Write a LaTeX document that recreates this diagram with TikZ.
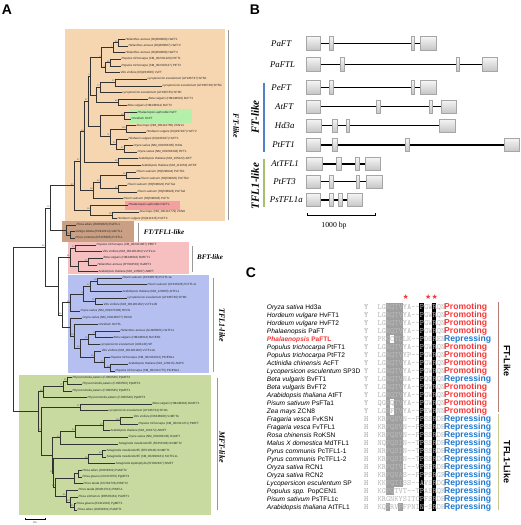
\documentclass[tikz,border=0pt]{standalone}
\usepackage{fontspec}
\setmainfont{Liberation Serif}
\setsansfont{Liberation Sans}
\newfontfamily\starfont{DejaVu Sans}
\usepackage{tikz}

\definecolor{ftbox}{RGB}{246,214,176}
\definecolor{fttflbox}{RGB}{201,160,132}
\definecolor{bftbox}{RGB}{246,192,192}
\definecolor{tflbox}{RGB}{182,192,240}
\definecolor{mftbox}{RGB}{200,218,160}
\definecolor{hlgreen}{RGB}{180,240,170}
\definecolor{hlred}{RGB}{244,160,160}
\definecolor{promred}{RGB}{245,55,55}
\definecolor{repblue}{RGB}{30,120,210}
\definecolor{ftbar}{RGB}{180,125,115}
\definecolor{tflbar}{RGB}{200,200,140}
\definecolor{bblue}{RGB}{80,130,200}
\definecolor{bgreen}{RGB}{170,190,110}

% y position of the i-th leaf of the tree
\newcommand\leafy[1]{39.3+6.63*(#1-1)}

\begin{document}
\begin{tikzpicture}
                        [
                            x=1pt, y=-1pt,
                            leaf style/.style={anchor=west, inner sep=0.3pt, text=black!85, font=\sffamily\fontsize{3}{3}\selectfont},
                            branch style/.style={draw=black!80, line width=0.35pt},
                            boot style/.style={anchor=south east, inner sep=0.2pt, text=black!70, font=\sffamily\fontsize{2.2}{2.2}\selectfont},
                            clade bar/.style={draw=gray!80, line width=0.8pt},
                            clade label/.style={font=\rmfamily\bfseries\itshape\fontsize{8}{8}\selectfont},
                            panel label/.style={font=\sffamily\bfseries\fontsize{14}{14}\selectfont},
                            intron style/.style={draw=black, line width=1.1pt},
                            exon style/.style={draw=gray!70, line width=0.5pt, top color=gray!8, bottom color=gray!45},
                            gene label/.style={font=\rmfamily\itshape\fontsize{8.8}{8.8}\selectfont},
                            group label/.style={rotate=90, font=\rmfamily\bfseries\itshape\fontsize{11}{11}\selectfont},
                            name style/.style={anchor=base west, inner sep=0pt, font=\sffamily\fontsize{6.6}{6.6}\selectfont},
                            res style/.style={anchor=base west, inner sep=0pt, text=gray!70, font=\ttfamily\fontsize{8}{8}\selectfont},
                            seq style/.style={anchor=base west, inner sep=0pt, text=gray!55, font=\ttfamily\fontsize{8}{8}\selectfont},
                            fun style/.style={anchor=base west, inner sep=0pt, font=\sffamily\bfseries\fontsize{8.6}{8.6}\selectfont},
                            like label/.style={rotate=-90, font=\sffamily\bfseries\fontsize{9}{9}\selectfont},
                            star style/.style={text=promred, inner sep=0pt, font=\starfont\fontsize{7}{7}\selectfont}
                        ]
                        \useasboundingbox (0,0) rectangle (520,525);
                        \node[panel label] (pA) at (7,10) {A};
                        \node[panel label] (pB) at (255,10) {B};
                        \node[panel label] (pC) at (251,273) {C};

                        % panel A: clade boxes
                        \fill[ftbox] (65,29) rectangle (225,221);
                        \fill[fttflbox] (62,221) rectangle (134,242);
                        \fill[bftbox] (68,242) rectangle (189,274);
                        \fill[tflbox] (68,275) rectangle (209,373);
                        \fill[mftbox] (19,375) rectangle (211,515);
                        \fill[hlgreen] (130,108.7) rectangle (192,122.5);
                        \fill[hlred] (125,200.8) rectangle (180,209.5);

                        % leaves
                        \foreach \x/\t [count=\i] in {
                            125/{\textit{Helianthus annuus} (DQ899080) HaFT1},
                            128/{\textit{Helianthus annuus} (DQ899087) HaFT2},
                            125/{\textit{Helianthus annuus} (DQ899088) HaFT4},
                            121/{\textit{Populus trichocarpa} (XM\_002311229) PtFT1},
                            121/{\textit{Populus trichocarpa} (XM\_002310137) PtFT2},
                            120/{\textit{Vitis vinifera} (DQ263306) VvFT},
                            147/{\textit{Lycopersicon esculentum} (AY186737) SP5A},
                            162/{\textit{Lycopersicon esculentum} (AY186738) SP5G},
                            122/{\textit{Lycopersicon esculentum} (AY186735) SP3D},
                            148/{\textit{Beta vulgaris} (HM448910) BvFT1},
                            127/{\textit{Beta vulgaris} (HM448912) BvFT2},
                            137/{\textit{Phalaenopsis aphrodite} PaFT},
                            131/{\textit{Oncidium} OnFT},
                            136/{\textit{Zea mays} (NM\_001112760) ZCN14},
                            146/{\textit{Hordeum vulgare} (DQ297407) HvFT2},
                            128/{\textit{Hordeum vulgare} (DQ100327) HvFT1},
                            133/{\textit{Oryza sativa} (NM\_001063395) Hd3a},
                            137/{\textit{Oryza sativa} (NM\_001063394) RFT1},
                            138/{\textit{Arabidopsis thaliana} (NM\_105222) AtFT},
                            141/{\textit{Arabidopsis thaliana} (NM\_119150) AtTSF},
                            136/{\textit{Pisum sativum} (HQ538824) PsFTb1},
                            140/{\textit{Pisum sativum} (HQ538825) PsFTb2},
                            127/{\textit{Pisum sativum} (HQ538822) PsFTa1},
                            137/{\textit{Pisum sativum} (HQ538823) PsFTa2},
                            123/{\textit{Pisum sativum} (HQ538826) PsFTc},
                            128/{\textit{Phalaenopsis aphrodite} PaFTL},
                            139/{\textit{Zea mays} (NM\_001112779) ZCN8},
                            117/{\textit{Hordeum vulgare} (DQ411315) HvFT3},
                            76/{\textit{Picea abies} (JN039323) PaFTL1},
                            75/{\textit{Ginkgo biloba} (EX932314) GbFTL1},
                            75/{\textit{Pinus contorta} (DT225695) PcFTL1},
                            96/{\textit{Populus trichocarpa} (XM\_002321867) PtBFT},
                            102/{\textit{Vitis vinifera} (NM\_001281004) VvTFL1c},
                            103/{\textit{Beta vulgaris} (HM448916) BvBFT1},
                            97/{\textit{Helianthus annuus} (DY918510) HaBFT1},
                            98/{\textit{Arabidopsis thaliana} (NM\_120587) AtBFT},
                            122/{\textit{Pisum sativum} (AY340579) PsTFL1a},
                            147/{\textit{Pisum sativum} (AY343326) PsTFL1c},
                            122/{\textit{Arabidopsis thaliana} (NM\_120465) AtTFL1},
                            127/{\textit{Lycopersicon esculentum} (AY186736) SP9D},
                            103/{\textit{Vitis vinifera} (NM\_001281002) VvTFL1B},
                            80/{\textit{Oryza sativa} (NM\_001072303) RCN1},
                            82/{\textit{Oryza sativa} (NM\_001186077) RCN2},
                            98/{\textit{Oncidium} OnTFL},
                            120/{\textit{Helianthus annuus} (GU985601) HaTFL1},
                            113/{\textit{Beta vulgaris} (HM448914) BvCEN1},
                            100/{\textit{Lycopersicon esculentum} (U84140) SP},
                            101/{\textit{Vitis vinifera} (NM\_001281000) VvTFL1A},
                            110/{\textit{Populus trichocarpa} (XM\_002329224) PtCENL1},
                            128/{\textit{Arabidopsis thaliana} (NM\_128315) AtATC},
                            115/{\textit{Populus trichocarpa} (XM\_002312775) PtCENL2},
                            72/{\textit{Physcomitrella patens} (FJ000546) PpMFT2},
                            82/{\textit{Physcomitrella patens} (FJ000550) PpMFT4},
                            72/{\textit{Physcomitrella patens} (FJ000545) PpMFT1},
                            87/{\textit{Physcomitrella patens} (FJ000549) PpMFT3},
                            152/{\textit{Beta vulgaris} (HM448918) BvMFT1},
                            108/{\textit{Lycopersicon esculentum} (AY186734) SP2G},
                            133/{\textit{Vitis vinifera} (CB346960) VvMFTA},
                            138/{\textit{Populus trichocarpa} (XM\_002321471) PtMFT},
                            110/{\textit{Arabidopsis thaliana} (NM\_101672) AtMFT},
                            128/{\textit{Oryza sativa} (NM\_001064236) OsMFT},
                            118/{\textit{Selaginella moellendorffii} (FE451588) SmMFT2},
                            106/{\textit{Selaginella moellendorffii} (FE510548) SmMFT1},
                            106/{\textit{Selaginella moellendorffii} (XM\_002990181) SmTFL1L},
                            115/{\textit{Selaginella lepidophylla} (EH002827) SlMFT},
                            82/{\textit{Picea abies} (JN039332) PaMFT2},
                            82/{\textit{Picea glauca} (CO473070) PgMFT3},
                            83/{\textit{Pinus taeda} (CN784736) PtMFT2},
                            78/{\textit{Pinus taeda} (DN610714) PtMFL1},
                            78/{\textit{Picea sitchensis} (DR535461) PsMFT1},
                            76/{\textit{Picea glauca} (EX411632) PgMFT1},
                            77/{\textit{Picea abies} (JN039331) PaMFT1}}
                            \node[leaf style] (l\i) at (\x,{\leafy{\i}}) {\t};

                        % inner nodes: name/x/leaf rank
                        \foreach \n/\x/\k in {a1/118/1.5, a2/113/2.25, a3/110/4.5, a4/105/5.25, a5/101/3.75,
                            a6/115/7.5, a7/100/8.25, a8/118/10.5, a9/96/9.375, a10/90/6.5625,
                            b1/124/12.5, b2/126/14.5, b3/124/17.5, b4/116/16.75, b5/110/15.625, b6/100/14.0625,
                            a11/88/10.3125, c1/118/19.5, a12/84/14.906, c2/126/21.5, c3/118/23.5, c4/100/22.5,
                            c5/93/23.75, a13/80/19.33, d1/112/27.5, d2/90/26.75, a14/74/23.04,
                            k1/70/30.5, br/66/29.75, fb/50/26.4,
                            h1/75/32.5, h2/88/34.5, h3/78/35.25, h4/70/33.875,
                            e1/97/37.5, e2/90/38.25, e3/95/40.5, e4/83/39.375, e5/70/40.69,
                            f1/95/45.5, f2/88/46.25, g1/110/50.5, g2/104/49.75, g3/94/48.875,
                            g4/80/47.56, g5/74/45.78, g6/70/44.39, tr/62/42.54, hb/58/38.21, gg/45/32.3,
                            p1/67/52.5, p2/63/53.25, p3/43/54.125, q1/80/56.5,
                            r1/120/58.5, r2/103/59.25, r3/75/60.125, r4/60/61.06,
                            s1/102/63.5, s2/88/64.25, t1/78/66.5, t2/74/67.25, t3/74/71.5, t4/70/70.75,
                            t5/66/69.875, t6/55/68.56, u1/53/66.4, v1/52/63.73, w1/41/60.1, m0/38/57.1,
                            root/13/44.7}
                            \coordinate (\n) at (\x,{\leafy{\k}});

                        % branches
                        \foreach \p/\c in {a1/l1, a1/l2, a2/a1, a2/l3, a3/l4, a3/l5, a4/a3, a4/l6, a5/a2, a5/a4,
                            a6/l7, a6/l8, a7/a6, a7/l9, a8/l10, a8/l11, a9/a7, a9/a8, a10/a5, a10/a9,
                            b1/l12, b1/l13, b2/l14, b2/l15, b3/l17, b3/l18, b4/l16, b4/b3, b5/b2, b5/b4, b6/b1, b6/b5,
                            a11/a10, a11/b6, c1/l19, c1/l20, a12/a11, a12/c1,
                            c2/l21, c2/l22, c3/l23, c3/l24, c4/c2, c4/c3, c5/c4, c5/l25, a13/a12, a13/c5,
                            d1/l27, d1/l28, d2/l26, d2/d1, a14/a13, a14/d2,
                            k1/l30, k1/l31, br/l29, br/k1, fb/a14, fb/br,
                            h1/l32, h1/l33, h2/l34, h2/l35, h3/h2, h3/l36, h4/h1, h4/h3,
                            e1/l37, e1/l38, e2/e1, e2/l39, e3/l40, e3/l41, e4/e2, e4/e3, e5/e4, e5/l42,
                            f1/l45, f1/l46, f2/f1, f2/l47, g1/l50, g1/l51, g2/l49, g2/g1, g3/l48, g3/g2,
                            g4/f2, g4/g3, g5/l44, g5/g4, g6/l43, g6/g5, tr/e5, tr/g6,
                            hb/h4, hb/tr, gg/fb, gg/hb,
                            p1/l52, p1/l53, p2/p1, p2/l54, p3/p2, p3/l55, q1/l56, q1/l57,
                            r1/l58, r1/l59, r2/r1, r2/l60, r3/r2, r3/l61, r4/r3, r4/l62,
                            s1/l63, s1/l64, s2/s1, s2/l65, t1/l66, t1/l67, t2/t1, t2/l68,
                            t3/l71, t3/l72, t4/l70, t4/t3, t5/l69, t5/t4, t6/t2, t6/t5,
                            u1/s2, u1/t6, v1/r4, v1/u1, w1/q1, w1/v1, m0/p3, m0/w1,
                            root/gg, root/m0}
                            \draw[branch style] (\p) |- (\c);

                        % bootstrap values
                        \foreach \n/\v in {a1/85, a2/7, a3/89, a4/4, a5/4, a6/17, a7/77, a8/46, a10/4,
                            b1/98, b2/100, b3/97, b4/57, b5/71, a11/27, a12/18, a13/67, c1/99, c2/91, c3/97,
                            c4/55, c5/18, d1/99, d2/16, a14/87, fb/70, k1/98, gg/96, h1/17, h2/27, h4/96,
                            e1/28, e2/17, e3/21, e4/4, e5/96, f1/4, f2/12, g1/16, g2/27, g3/36, g4/12, g5/10,
                            tr/96, p1/62, p2/77, p3/90, q1/97, r1/100, r2/97, r3/53, r4/19, s1/99, s2/99,
                            t3/92, t4/60, t5/80, t6/98, u1/17, w1/28}
                            \node[boot style] (bs\n) at (\n) {\v};

                        % clade bars and names
                        \draw[clade bar] (228,30) -- (228,220);
                        \draw[clade bar] (138,223) -- (138,242);
                        \draw[clade bar] (192,246) -- (192,272);
                        \draw[clade bar] (213,278) -- (213,372);
                        \draw[clade bar] (217,378) -- (217,510);
                        \node[clade label, rotate=-90] (ftA) at (236,126) {FT-like};
                        \node[clade label, font=\rmfamily\bfseries\itshape\fontsize{7}{7}\selectfont] (fttflA) at (164,232) {FT/TFL1-like};
                        \node[clade label, font=\rmfamily\bfseries\itshape\fontsize{7}{7}\selectfont] (bftA) at (210,257) {BFT-like};
                        \node[clade label, rotate=-90] (tflA) at (222,325) {TFL1-like};
                        \node[clade label, rotate=-90] (mftA) at (222,447) {MFT-like};

                        % tree scale
                        \draw[line width=0.4pt] (25,518.3) -- (25,519.3) -- (45,519.3) -- (45,518.3);
                        \node[inner sep=0pt, font=\sffamily\fontsize{2.5}{2.5}\selectfont] (scA) at (35,522.5) {0.1};

                        % panel B: gene structures
                        \foreach \y/\l/\r/\ex in {
                            43.3/306.7/436/{306.7/320.7,329.3/333.3,411/414.3,420/436},
                            64.3/306.7/497.7/{306.7/320,340/344.3,456/459.3,482.3/497.7},
                            87.3/306.7/436/{306.7/320.7,329.3/333.3,411/414.3,420/436},
                            106.7/306.7/456.7/{306.7/320.7,376.7/380.7,429.3/432.7,441.7/456.7},
                            125.7/306.7/455/{306.7/321.7,332.7/337.3,346/349.3,439.3/455},
                            145/306.7/519.3/{306.7/320.7,332.7/337.3,405.7/409,504.3/519.3},
                            164/306.7/380/{306.7/322.3,336.7/341,355.3/359,365.3/380},
                            181.7/306.7/382/{306.7/320.7,329.3/333.7,356/359.3,366.7/382},
                            200/306.7/362.7/{306.7/320.7,329.3/333.3,338.3/342,347.3/362.7}}
                        {
                            \draw[intron style] (\l,\y) -- (\r,\y);
                            \foreach \a/\b in \ex
                                \draw[exon style] (\a,{\y-6.6}) rectangle (\b,{\y+6.6});
                        }
                        \foreach \x/\y/\g in {281.2/43.3/PaFT, 282.5/64.3/PaFTL, 281.2/87.3/PeFT, 284.2/106.7/AtFT,
                            284.7/125.7/Hd3a, 283.5/145/PtFT1, 285/164/AtTFL1, 284.5/181.7/PtFT3, 286.3/200/PsTFL1a}
                            \node[gene label] (gn\g) at (\x,\y) {\g};
                        \draw[bblue, line width=1.2pt] (264,83.3) -- (264,151.7);
                        \draw[bgreen, line width=1.2pt] (264,159.3) -- (264,207);
                        \node[group label] (ftB) at (255,117) {FT-like};
                        \node[group label] (tflB) at (255,186) {TFL1-like};
                        \draw[line width=0.9pt] (307.3,213.3) -- (307.3,215.8) -- (375.7,215.8) -- (375.7,213.3);
                        \node[inner sep=0pt, font=\rmfamily\fontsize{7.7}{7.7}\selectfont] (scB) at (334,225.7) {1000 bp};

                        % panel C: alignment shading
                        \fill[gray!75] (385.7,302.7) rectangle (402.5,486.7);
                        \fill[gray!75] (385.7,486.7) rectangle (394.1,494.7);
                        \fill[gray!75] (385.7,502.7) rectangle (389.9,510.7);
                        \fill[gray!75] (398.3,502.7) rectangle (402.5,510.7);
                        \foreach \i in {4,12,13}
                            \fill[white] (389.9,{302.7+8*\i}) rectangle (394.1,{310.7+8*\i});
                        \fill[black] (419.3,302.7) rectangle (423.5,510.7);
                        \fill[black] (431.9,302.7) rectangle (436.1,510.7);
                        \node[star style] (st1) at (405.7,296.7) {★};
                        \node[star style] (st2) at (431.5,296.7) {★★};

                        \foreach \nm/\rs/\sq/\fc/\fw [count=\i from 0] in {
                            {\textit{Oryza sativa} Hd3a}/Y/{LGRQTVYA-{}-PGWRQN}/promred/Promoting,
                            {\textit{Hordeum vulgare} HvFT1}/Y/{LGRQTVYA-{}-PGWRQN}/promred/Promoting,
                            {\textit{Hordeum vulgare} HvFT2}/Y/{LGRQTVYA-{}-PGWRQN}/promred/Promoting,
                            {\textit{Phalaenopsis} PaFT}/Y/{LGRQTVYA-{}-PGWRQN}/promred/Promoting,
                            {\bfseries\color{promred}\textit{Phalaenopsis} PaFTL}/Y/{PKGCTLLK-{}-PDSREN}/repblue/Repressing,
                            {\textit{Populus trichocarpa} PtFT1}/Y/{LGRQTVYA-{}-PGWRQN}/promred/Promoting,
                            {\textit{Populus trichocarpa} PtFT2}/Y/{LGRQTVYP-{}-PGWRQN}/promred/Promoting,
                            {\textit{Actinidia chinensis} AcFT}/Y/{LGRQTVYA-{}-PGWRQN}/promred/Promoting,
                            {\textit{Lycopersicon esculentum} SP3D}/Y/{LGRQTVYA-{}-PGWRQN}/promred/Promoting,
                            {\textit{Beta vulgaris} BvFT1}/Y/{LGRQTVNA-{}-PQQRQN}/repblue/Repressing,
                            {\textit{Beta vulgaris} BvFT2}/Y/{LGRQTVYA-{}-PGWRQN}/promred/Promoting,
                            {\textit{Arabidopsis thaliana} AtFT}/Y/{LGRQTVYA-{}-PGWRQN}/promred/Promoting,
                            {\textit{Pisum sativum} PsFTa1}/Y/{QGRQTVYA-{}-PGWRQN}/promred/Promoting,
                            {\textit{Zea mays} ZCN8}/Y/{LGRFTVYA-{}-PEWRNN}/promred/Promoting,
                            {\textit{Fragaria vesca} FvKSN}/H/{KRPQSVN-{}-PPSSRDH}/repblue/Repressing,
                            {\textit{Fragaria vesca} FvTFL1}/H/{KRPQSVN-{}-PPSSRDH}/repblue/Repressing,
                            {\textit{Rosa chinensis} RoKSN}/H/{KRPQSVN-{}-PPSSRDH}/repblue/Repressing,
                            {\textit{Malus X domestica} MdTFL1}/H/{NQPQSIN-{}-TPSSRDH}/repblue/Repressing,
                            {\textit{Pyrus communis} PcTFL1-1}/H/{NRPQSIN-{}-TPSSRDH}/repblue/Repressing,
                            {\textit{Pyrus communis} PcTFL1-2}/H/{KRPQSIN-{}-TPSSRDC}/repblue/Repressing,
                            {\textit{Oryza sativa} RCN1}/H/{KRPQTVI-{}-VPSFRDH}/repblue/Repressing,
                            {\textit{Oryza sativa} RCN2}/H/{KRPQVAS-{}-PPPSRGR}/repblue/Repressing,
                            {\textit{Lycopersicon esculentum} SP}/H/{KKPQTISS-{}-AVSRDQ}/repblue/Repressing,
                            {\textit{Populus spp.} PopCEN1}/H/{KGPQTVT-{}-TPASRQK}/repblue/Repressing,
                            {\textit{Pisum sativum} PsTFL1c}/H/{KRGNKYSITCPFSRDH}/repblue/Repressing,
                            {\textit{Arabidopsis thaliana} AtTFL1}/H/{KQPRVFFPNIN-SRDH}/repblue/Repressing}
                        {
                            \node[name style] (sp\i) at (266.7,{309.3+8*\i}) {\nm};
                            \node[res style] (rs\i) at (364,{309.3+8*\i}) {\rs};
                            \node[seq style] (sq\i) at (377.3,{309.3+8*\i}) {\sq};
                            \node[fun style, text=\fc] (fn\i) at (444,{309.3+8*\i}) {\fw};
                        }
                        \draw[ftbar, line width=1.2pt] (498.3,301.7) -- (498.3,411.7);
                        \draw[tflbar, line width=1.2pt] (498.3,414) -- (498.3,510);
                        \node[like label] (ftC) at (507,361) {FT-Like};
                        \node[like label] (tflC) at (507,462) {TFL1-Like};
                        \end{tikzpicture}
\end{document}
